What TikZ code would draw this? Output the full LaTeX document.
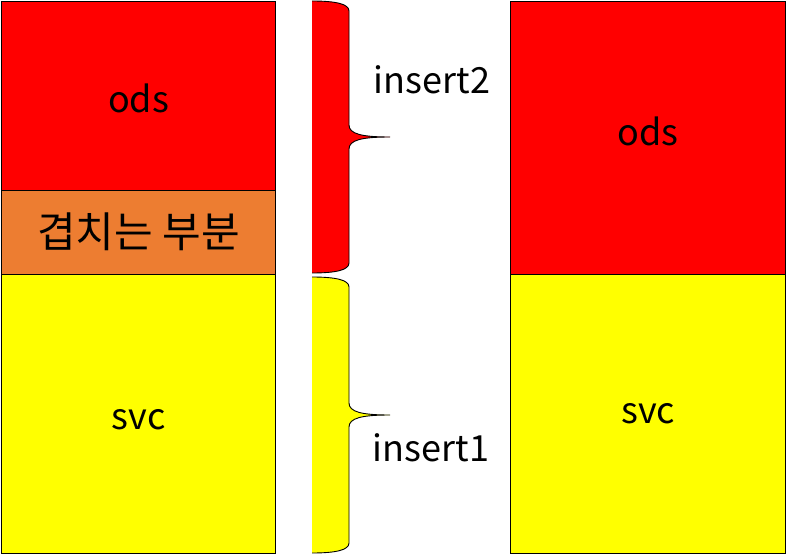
\documentclass[tikz,border=0pt]{standalone}
\usepackage{fontspec}
\setmainfont{Noto Sans CJK KR}
\usepackage{tikz}
\usetikzlibrary{positioning}
\definecolor{odsred}{HTML}{FF0000}
\definecolor{svcyellow}{HTML}{FFFF00}
\definecolor{overlaporange}{HTML}{ED7D31}
\tikzstyle{block} = [rectangle, draw=black, line width=1.2pt, inner sep=0pt, anchor=north west]
\tikzstyle{label} = [text=black, font=\fontsize{36}{40}\selectfont]
\tikzstyle{bracestroke} = [draw=black, line width=0.9pt]
% right part of a brace: top, bottom, tip
\newcommand{\bracecurve}[3]{(312,#1) .. controls (336,#1) and (349,#1+3) .. (349,#1+10) -- (349,#3-12) .. controls (349,#3-3) and (362,#3) .. (390,#3) .. controls (362,#3) and (349,#3+3) .. (349,#3+12) -- (349,#2-10) .. controls (349,#2-3) and (336,#2) .. (312,#2)}

\begin{document}
\begin{tikzpicture}[x=1pt, y=-1pt]
\useasboundingbox (0,0) rectangle (787,556);

% left column
\node (ods) [block, fill=odsred, minimum width=274pt, minimum height=189pt] at (1,1) {};
\node (overlap) [block, fill=overlaporange, minimum width=274pt, minimum height=84pt] at (1,190) {};
\node (svc) [block, fill=svcyellow, minimum width=274pt, minimum height=279pt] at (1,274) {};
\node [label] at ([yshift=-2pt]ods.center) {ods};
\node [label, font=\fontsize{42}{46}\selectfont] at ([yshift=1pt]overlap.center) {겹치는 부분};
\node [label] at ([yshift=-6pt]svc.center) {svc};

% braces
\fill[odsred] \bracecurve{1}{273}{137} -- cycle;
\draw[bracestroke] \bracecurve{1}{273}{137};
\fill[svcyellow] \bracecurve{277}{553}{415} -- cycle;
\draw[bracestroke] \bracecurve{277}{553}{415};
\node (ins2) [label] at (432,80) {insert2};
\node (ins1) [label] at (431,448) {insert1};

% right column
\node (ods2) [block, fill=odsred, minimum width=275pt, minimum height=273pt] at (510,1) {};
\node (svc2) [block, fill=svcyellow, minimum width=275pt, minimum height=279pt] at (510,274) {};
\node [label] at ([yshift=7pt]ods2.center) {ods};
\node [label] at ([yshift=0pt]svc2.center) {svc};

\end{tikzpicture}
\end{document}
